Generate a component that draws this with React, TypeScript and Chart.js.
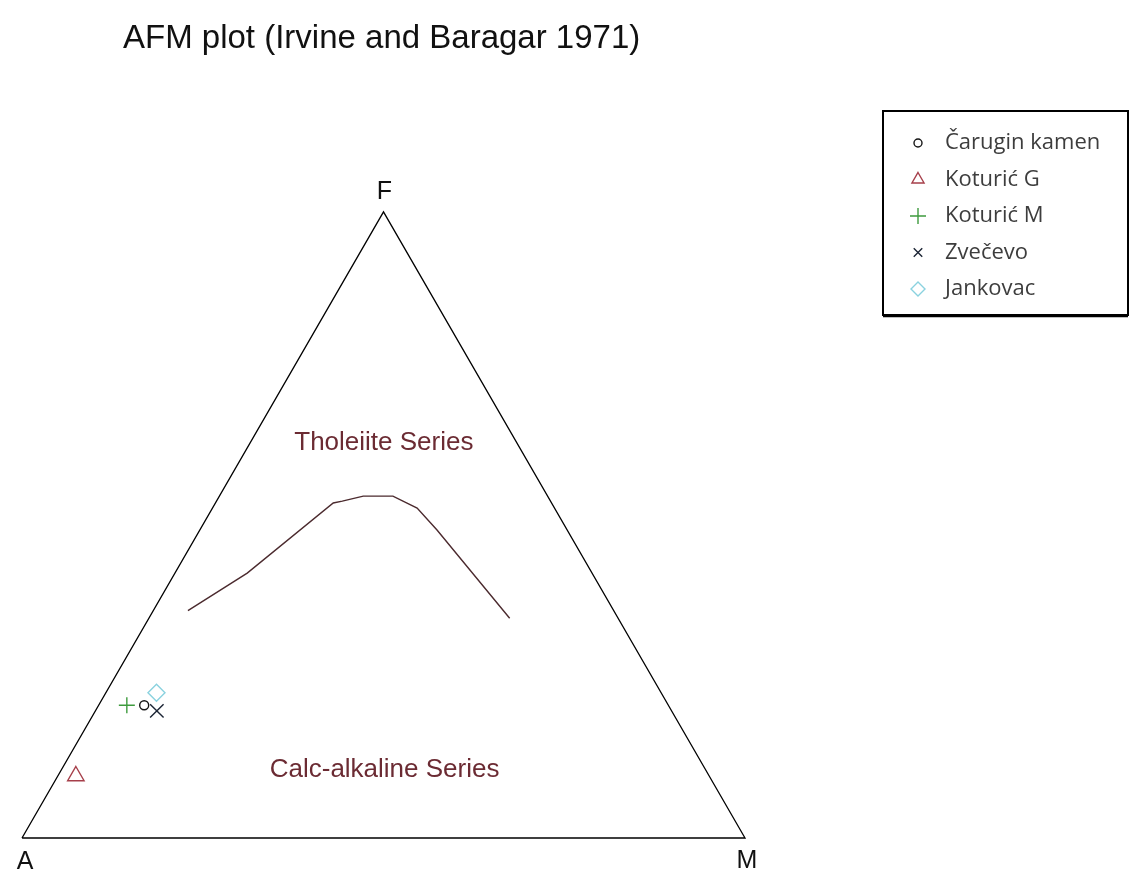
import React, { useEffect, useRef } from 'react';
import { Chart, registerables } from 'chart.js';
import { drawPoint } from 'chart.js/helpers';

Chart.register(...registerables);

// ---- data ----
const chartTitle = 'AFM plot (Irvine and Baragar 1971)';
const vertexLabels = ['A', 'F', 'M'];
const regionLabels = ['Tholeiite Series', 'Calc-alkaline Series'];

// triangle frame (ternary A, F, M in %)
const frameA = [100, 0, 0, 100];
const frameF = [0, 100, 0, 0];
const frameM = [0, 0, 100, 0];

// Irvine & Baragar (1971) tholeiite / calc-alkaline boundary
const boundaryA = [58.9, 47.7, 30.2, 28.8, 25.5, 21.4, 19.0, 18.0, 15.0];
const boundaryF = [36.3, 42.3, 53.5, 53.8, 54.6, 54.6, 52.7, 49.2, 35.1];
const boundaryM = [4.8, 10.0, 16.3, 17.4, 19.9, 24.0, 28.3, 32.8, 49.9];

// samples
const sampleNames = ['Čarugin kamen', 'Koturić G', 'Koturić M', 'Zvečevo', 'Jankovac'];
const sampleA = [72.5, 87.6, 74.9, 71.2, 69.8];
const sampleF = [21.2, 9.9, 21.2, 20.3, 23.2];
const sampleM = [6.3, 2.5, 3.9, 8.5, 7.0];

// ---- styles / layout ----
const W = 1129;
const H = 874;
const SIDE_PX = 723; // triangle side in px
const ORIGIN_X = 22; // A vertex px
const ORIGIN_Y = 838;

const sampleStyles = [
  { pointStyle: 'circle', radius: 4.5, color: '#151515', legendRadius: 4 },
  { pointStyle: 'triangle', radius: 9.5, color: '#a63f4a', legendRadius: 7 },
  { pointStyle: 'cross', radius: 8, color: '#3e9b3e', legendRadius: 8 },
  { pointStyle: 'crossRot', radius: 9.5, color: '#1b2434', legendRadius: 6 },
  { pointStyle: 'rectRot', radius: 8.5, color: '#8ad2df', legendRadius: 7 },
];

const regionLabelPos = [
  { a: 18.4, f: 63.1, m: 18.5 },
  { a: 44.4, f: 10.9, m: 44.7 },
];

function toXY(a: number, f: number, m: number) {
  const s = a + f + m;
  return { x: (m + f / 2) / s, y: ((f / s) * Math.sqrt(3)) / 2 };
}

function series(A: number[], F: number[], M: number[]) {
  return A.map((a, i) => toXY(a, F[i], M[i]));
}

const decorPlugin = {
  id: 'afmDecor',
  afterDraw(chart: any) {
    const ctx = chart.ctx as CanvasRenderingContext2D;
    const xs = chart.scales.x;
    const ys = chart.scales.y;
    const px = (a: number, f: number, m: number) => {
      const p = toXY(a, f, m);
      return { x: xs.getPixelForValue(p.x), y: ys.getPixelForValue(p.y) };
    };
    ctx.save();

    // title
    ctx.fillStyle = '#111';
    ctx.font = '33px "Liberation Sans", Arial, sans-serif';
    ctx.textAlign = 'left';
    ctx.textBaseline = 'alphabetic';
    ctx.fillText(chartTitle, 123, 48);

    // vertex labels
    ctx.font = '25px "Liberation Sans", Arial, sans-serif';
    ctx.textAlign = 'center';
    ctx.textBaseline = 'middle';
    const vA = px(100, 0, 0);
    const vF = px(0, 100, 0);
    const vM = px(0, 0, 100);
    ctx.fillText(vertexLabels[0], vA.x + 3, vA.y + 24);
    ctx.fillText(vertexLabels[1], vF.x + 1, vF.y - 20);
    ctx.fillText(vertexLabels[2], vM.x + 2, vM.y + 23);

    // region labels
    ctx.fillStyle = '#6b2b33';
    ctx.font = '26px "Liberation Sans", Arial, sans-serif';
    regionLabels.forEach((t, i) => {
      const p = px(regionLabelPos[i].a, regionLabelPos[i].f, regionLabelPos[i].m);
      ctx.fillText(t, p.x, p.y);
    });

    // legend box
    const bx = 883, by = 111, bw = 245, bh = 204;
    ctx.fillStyle = '#fff';
    ctx.fillRect(bx, by, bw, bh);
    ctx.strokeStyle = '#000';
    ctx.lineWidth = 2;
    ctx.strokeRect(bx, by, bw, bh);
    ctx.lineWidth = 1.5;
    ctx.beginPath();
    ctx.moveTo(bx, by + bh + 1.5);
    ctx.lineTo(bx + bw, by + bh + 1.5);
    ctx.stroke();

    ctx.textAlign = 'left';
    ctx.textBaseline = 'middle';
    ctx.font = '22px "Open Sans", "Noto Sans", sans-serif';
    sampleNames.forEach((name, i) => {
      const rowY = 143 + i * 36.5;
      const st = sampleStyles[i];
      ctx.strokeStyle = st.color;
      ctx.fillStyle = 'rgba(0,0,0,0)';
      ctx.lineWidth = 1.4;
      drawPoint(ctx, { pointStyle: st.pointStyle, radius: st.legendRadius, rotation: 0, borderWidth: 1.4 } as any, 918, rowY);
      ctx.fillStyle = '#3d3d3d';
      ctx.fillText(name, 945, rowY);
    });

    ctx.restore();
  },
};

export default function App() {
  const canvasRef = useRef<HTMLCanvasElement | null>(null);

  useEffect(() => {
    const canvas = canvasRef.current;
    if (!canvas) return;

    const datasets: any[] = [
      {
        label: 'frame',
        data: series(frameA, frameF, frameM),
        showLine: true,
        borderColor: '#000',
        borderWidth: 1.3,
        pointRadius: 0,
        fill: false,
        tension: 0,
      },
      {
        label: 'boundary',
        data: series(boundaryA, boundaryF, boundaryM),
        showLine: true,
        borderColor: '#4b2a2e',
        borderWidth: 1.4,
        pointRadius: 0,
        fill: false,
        tension: 0,
      },
    ];
    sampleNames.forEach((name, i) => {
      const st = sampleStyles[i];
      datasets.push({
        label: name,
        data: [toXY(sampleA[i], sampleF[i], sampleM[i])],
        pointStyle: st.pointStyle,
        pointRadius: st.radius,
        borderColor: st.color,
        backgroundColor: 'rgba(0,0,0,0)',
        borderWidth: 1.4,
        showLine: false,
      });
    });

    const chart = new Chart(canvas, {
      type: 'scatter',
      data: { datasets },
      options: {
        animation: false,
        responsive: false,
        maintainAspectRatio: false,
        layout: { padding: 0, autoPadding: false },
        events: [],
        scales: {
          x: {
            type: 'linear',
            display: false,
            min: -ORIGIN_X / SIDE_PX,
            max: (W - ORIGIN_X) / SIDE_PX,
          },
          y: {
            type: 'linear',
            display: false,
            min: -(H - ORIGIN_Y) / SIDE_PX,
            max: ORIGIN_Y / SIDE_PX,
          },
        },
        plugins: {
          legend: { display: false },
          tooltip: { enabled: false },
          title: { display: false },
        },
        elements: { line: { tension: 0 } },
      } as any,
      plugins: [decorPlugin],
    });

    return () => {
      chart.destroy();
    };
  }, []);

  return (
    <div style={{ position: 'absolute', left: 0, top: 0, width: W, height: H, background: '#fff' }}>
      <canvas ref={canvasRef} width={W} height={H} style={{ display: 'block', width: W, height: H }} />
    </div>
  );
}
